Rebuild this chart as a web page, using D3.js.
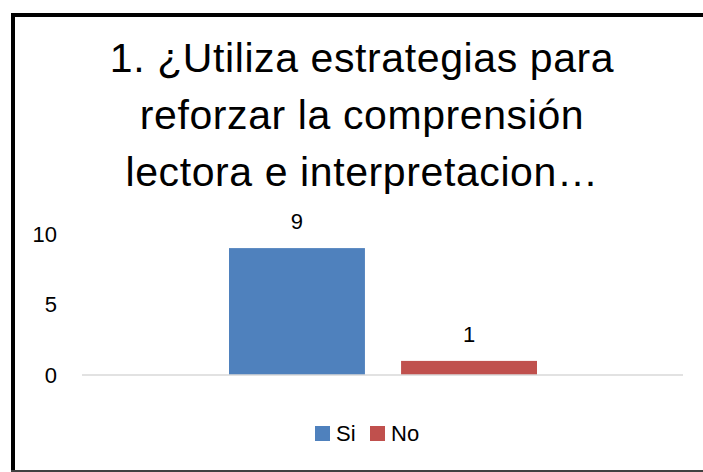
<!DOCTYPE html>
<html>
<head>
<meta charset="utf-8">
<script src="https://cdn.jsdelivr.net/npm/d3@7"></script>
<style>
  body { margin: 0; background: #fff; overflow: hidden; }
  svg { display: block; }
  text { font-family: "Liberation Sans", "DejaVu Sans", sans-serif; fill: #000; }
</style>
</head>
<body>
<div id="viz"></div>
<script>
const titleLines = ["1. ¿Utiliza estrategias para", "reforzar la comprensión", "lectora e interpretacion…"]
const categories = ["1"]
const seriesNames = ["Si", "No"]
const seriesValues = [9, 1]
const seriesColors = ["#4F81BD", "#C0504D"]
const yTicks = [0, 5, 10]

const width = 703
const height = 472

const svg = d3.select("#viz").append("svg")
  .attr("width", width)
  .attr("height", height)

// frame: left and top edges in black, bottom in dark gray
svg.append("path")
  .attr("d", "M13,470 L13,15 L703,15")
  .attr("fill", "none")
  .attr("stroke", "#000")
  .attr("stroke-width", 4)
svg.append("line")
  .attr("x1", 11).attr("x2", 703)
  .attr("y1", 471).attr("y2", 471)
  .attr("stroke", "#404040").attr("stroke-width", 2)

// title
svg.append("g").selectAll("text")
  .data(titleLines)
  .enter().append("text")
  .attr("x", 362)
  .attr("y", (d, i) => 72 + i * 57)
  .attr("text-anchor", "middle")
  .style("font-size", "41px")
  .style("letter-spacing", "0.6px")
  .text(d => d)

const x0 = d3.scaleBand().domain(categories).range([82, 683])
const x1 = d3.scaleBand().domain(seriesNames)
  .range([229 - 82, 537 - 82]).paddingInner(0.21)
const y = d3.scaleLinear().domain([0, 10]).range([375, 234])

// y labels
svg.append("g").selectAll("text")
  .data(yTicks)
  .enter().append("text")
  .attr("x", 57)
  .attr("y", d => y(d))
  .attr("dy", "0.35em")
  .attr("text-anchor", "end")
  .style("font-size", "22px")
  .text(d => d)

// bars
const bars = seriesNames.map((s, i) => ({ cat: categories[0], name: s, value: seriesValues[i], color: seriesColors[i] }))

svg.append("g").selectAll("rect")
  .data(bars)
  .enter().append("rect")
  .attr("x", d => x0(d.cat) + x1(d.name))
  .attr("y", d => y(d.value))
  .attr("width", x1.bandwidth())
  .attr("height", d => y(0) - y(d.value))
  .attr("fill", d => d.color)

svg.append("g").selectAll("text")
  .data(bars)
  .enter().append("text")
  .attr("x", d => x0(d.cat) + x1(d.name) + x1.bandwidth() / 2)
  .attr("y", d => y(d.value) - 19)
  .attr("text-anchor", "middle")
  .style("font-size", "22px")
  .text(d => d.value)

// baseline
svg.append("line")
  .attr("x1", 82).attr("x2", 683)
  .attr("y1", y(0)).attr("y2", y(0))
  .attr("stroke", "#d9d9d9").attr("stroke-width", 1.5)

// legend
const legend = svg.append("g").selectAll("g")
  .data(bars)
  .enter().append("g")
  .attr("transform", (d, i) => `translate(${315 + i * 55}, 0)`)
legend.append("rect")
  .attr("x", 0).attr("y", 426)
  .attr("width", 15).attr("height", 15)
  .attr("fill", d => d.color)
legend.append("text")
  .attr("x", 21).attr("y", 441)
  .style("font-size", "22px")
  .text(d => d.name)
</script>
</body>
</html>
